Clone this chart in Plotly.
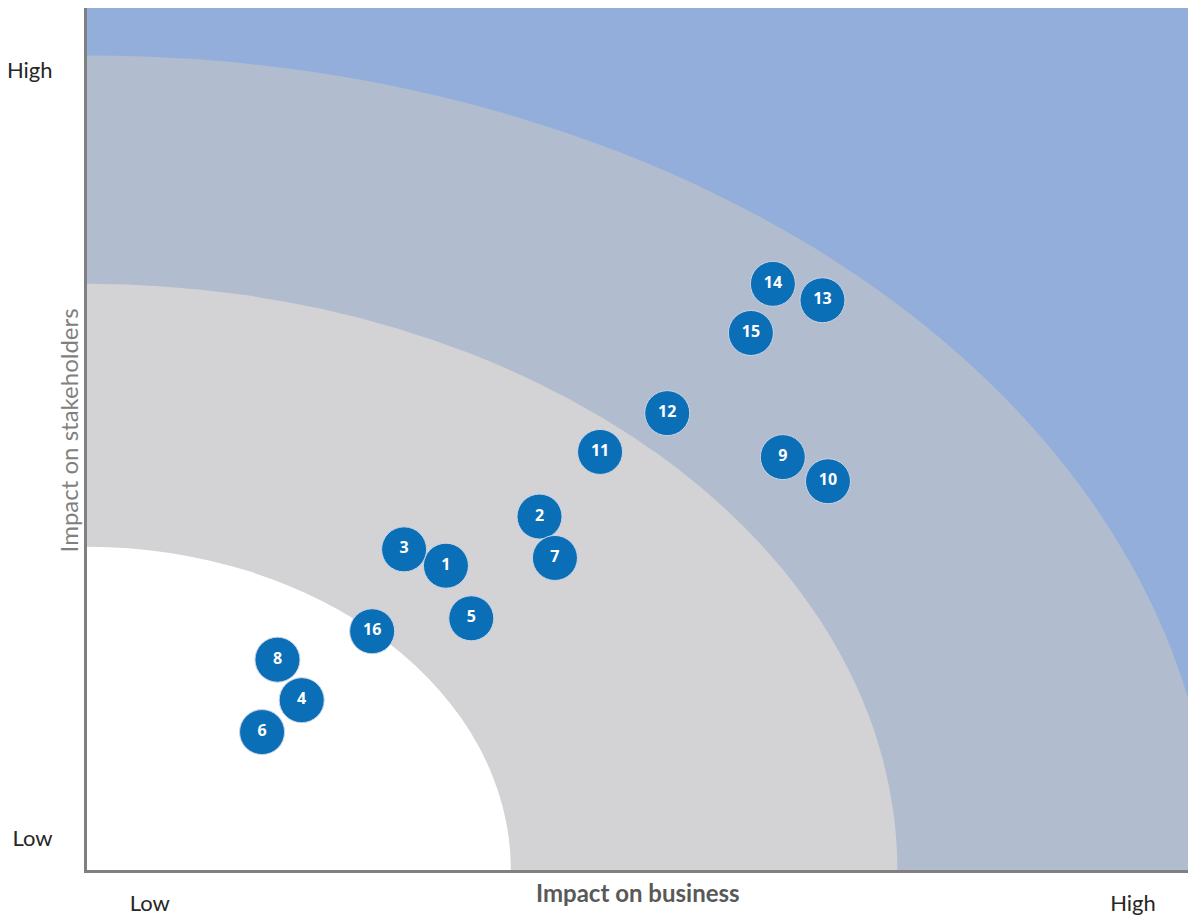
import plotly.graph_objects as go

# Data (0-100 scale on both axes)
labels = ["1", "2", "3", "4", "5", "6", "7", "8", "9", "10", "11", "12", "13", "14", "15", "16"]
impact_business = [32.6, 41.1, 28.8, 19.5, 34.9, 15.9, 42.5, 17.3, 63.2, 67.3, 46.6, 52.7, 66.8, 62.3, 60.3, 25.9]
impact_stakeholders = [35.3, 41.0, 37.2, 19.7, 29.2, 16.0, 36.2, 24.4, 47.9, 45.1, 48.5, 53.0, 66.1, 68.0, 62.3, 27.7]

# Band radii (x radius, y radius) in data units, from the outer band inward
band_rx = [102.3, 73.6, 38.5]
band_ry = [94.5, 68.0, 37.5]
band_colors = ["#B1BDCE", "#D3D3D5", "#FFFFFF"]

x_ticks = [5.7, 95.0]
y_ticks = [3.7, 92.8]
tick_text = ["Low", "High"]

fig = go.Figure()

shapes = []
for rx, ry, c in zip(band_rx, band_ry, band_colors):
    shapes.append(dict(type="circle", xref="x", yref="y", x0=-rx, x1=rx, y0=-ry, y1=ry,
                       fillcolor=c, line=dict(width=0), layer="below"))

fig.add_trace(go.Scatter(
    x=impact_business, y=impact_stakeholders, mode="markers+text",
    text=labels, textposition="middle center",
    textfont=dict(family="Open Sans", size=16, color="white", weight="bold"),
    marker=dict(size=45, color="#0B6FB8", line=dict(width=1, color="#C8D4E4")),
    hoverinfo="text", showlegend=False, cliponaxis=False,
))

fig.update_layout(
    width=1188, height=917,
    margin=dict(l=87, r=0, t=8, b=47),
    paper_bgcolor="white",
    plot_bgcolor="#94AEDC",
    shapes=shapes,
    font=dict(family="Lato", color="#262626"),
    xaxis=dict(range=[0, 100], showgrid=False, zeroline=False, automargin=False,
               showline=True, linecolor="#808080", linewidth=3,
               tickvals=x_ticks, ticktext=tick_text, ticks="",
               tickfont=dict(size=22, color="#262626"), ticklabelstandoff=12),
    yaxis=dict(range=[0, 100], showgrid=False, zeroline=False, automargin=False,
               showline=True, linecolor="#808080", linewidth=3,
               tickvals=y_ticks, ticktext=tick_text, ticks="",
               tickfont=dict(size=22, color="#262626"), ticklabelstandoff=27),
    annotations=[
        dict(text="<b>Impact on business</b>", xref="paper", yref="paper", x=0.5, y=0,
             yshift=-22, showarrow=False, font=dict(size=24, color="#595959"),
             xanchor="center", yanchor="middle"),
        dict(text="Impact on stakeholders", xref="paper", yref="paper", x=0, y=0.51,
             xshift=-19, showarrow=False, textangle=-90, font=dict(size=24, color="#808080"),
             xanchor="center", yanchor="middle"),
    ],
)

fig.write_html("out.html")
